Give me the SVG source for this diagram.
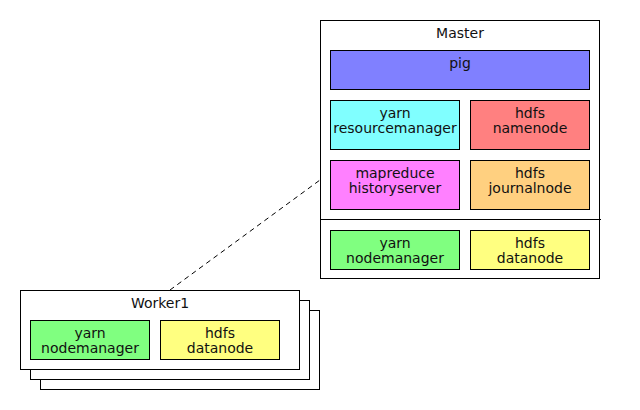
<svg xmlns="http://www.w3.org/2000/svg" width="640" height="410" viewBox="0 0 640 410">
<style>
rect{stroke:#000;stroke-width:1}
.frame{fill:#fff}
text{font-family:"DejaVu Sans",sans-serif;font-size:14px;fill:#111;text-anchor:middle}
</style>
<rect width="640" height="410" fill="#fff" style="stroke:none"/>
<g id="connectors">
<line x1="170" y1="290" x2="320" y2="180" stroke="#000" stroke-width="1" stroke-dasharray="5,4"/>
</g>
<g id="master">
<rect class="frame" x="320.5" y="20.5" width="279" height="258"/>
<line x1="320" y1="219.5" x2="601" y2="219.5" stroke="#000"/>
<text x="460" y="38">Master</text>
</g>
<g id="pig">
<rect x="330.5" y="50.5" width="259" height="39" fill="#8080ff"/>
<text x="460" y="68">pig</text>
</g>
<g id="resourcemanager">
<rect x="330.5" y="100.5" width="129" height="49" fill="#80ffff"/>
<text x="395" y="118">yarn</text><text x="395" y="133">resourcemanager</text>
</g>
<g id="namenode">
<rect x="470.5" y="100.5" width="119" height="49" fill="#ff8080"/>
<text x="530" y="118">hdfs</text><text x="530" y="133">namenode</text>
</g>
<g id="historyserver">
<rect x="330.5" y="160.5" width="129" height="49" fill="#ff80ff"/>
<text x="395" y="178">mapreduce</text><text x="395" y="193">historyserver</text>
</g>
<g id="journalnode">
<rect x="470.5" y="160.5" width="119" height="49" fill="#ffd080"/>
<text x="530" y="178">hdfs</text><text x="530" y="193">journalnode</text>
</g>
<g id="master-nodemanager">
<rect x="330.5" y="230.5" width="129" height="39" fill="#80ff80"/>
<text x="395" y="248">yarn</text><text x="395" y="263">nodemanager</text>
</g>
<g id="master-datanode">
<rect x="470.5" y="230.5" width="119" height="39" fill="#ffff80"/>
<text x="530" y="248">hdfs</text><text x="530" y="263">datanode</text>
</g>
<g id="worker-stack">
<rect class="frame" x="40.5" y="310.5" width="279" height="79"/>
<rect class="frame" x="30.5" y="300.5" width="279" height="79"/>
</g>
<g id="worker1">
<rect class="frame" x="20.5" y="290.5" width="279" height="79"/>
<text x="160" y="308">Worker1</text>
</g>
<g id="worker-nodemanager">
<rect x="30.5" y="320.5" width="119" height="39" fill="#80ff80"/>
<text x="90" y="338">yarn</text><text x="90" y="353">nodemanager</text>
</g>
<g id="worker-datanode">
<rect x="160.5" y="320.5" width="119" height="39" fill="#ffff80"/>
<text x="220" y="338">hdfs</text><text x="220" y="353">datanode</text>
</g>
</svg>
